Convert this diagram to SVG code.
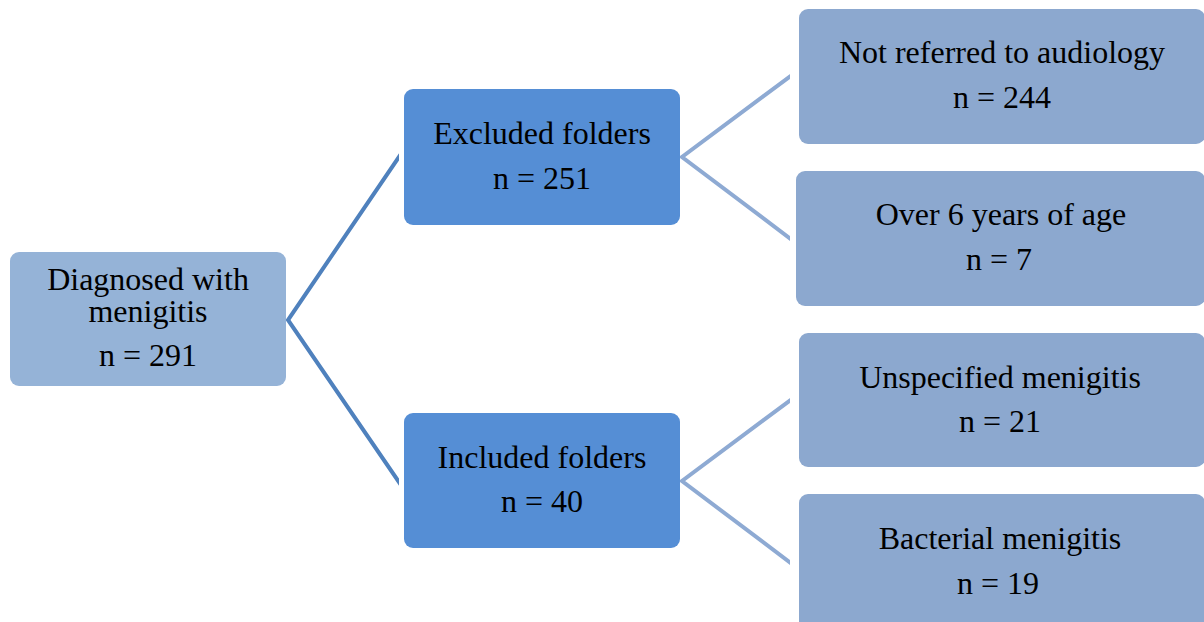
<svg xmlns="http://www.w3.org/2000/svg" width="1204" height="622" viewBox="0 0 1204 622">
  <style>
    .t { font-family: "Liberation Serif", "Times New Roman", serif; font-size: 32px; fill: #000; text-anchor: middle; }
    .root { fill: #95B3D7; }
    .mid { fill: #558ED5; }
    .leaf { fill: #8CA8CF; }
    .c1 { fill: none; stroke: #4F81BD; stroke-width: 4; stroke-linejoin: miter; }
    .c2 { fill: none; stroke: #8EAAD3; stroke-width: 4; stroke-linejoin: miter; }
  </style>
  <defs>
    <clipPath id="clipA"><rect x="0" y="0" width="399" height="622"/></clipPath>
    <clipPath id="clipB"><rect x="0" y="0" width="790" height="622"/></clipPath>
  </defs>
  <rect width="1204" height="622" fill="#fff"/>
  <g id="connectors">
    <polyline class="c1" clip-path="url(#clipA)" points="403,151 288,320 403,488"/>
    <polyline class="c2" clip-path="url(#clipB)" points="796,72 682,157 796,243"/>
    <polyline class="c2" clip-path="url(#clipB)" points="796,396 682,481 796,567"/>
  </g>
  <g id="root">
    <rect class="root" x="10" y="252" width="276" height="134" rx="9"/>
    <text class="t" x="148" y="290">Diagnosed with</text>
    <text class="t" x="148" y="322">menigitis</text>
    <text class="t" x="148" y="366">n = 291</text>
  </g>
  <g id="excluded">
    <rect class="mid" x="404" y="89" width="276" height="136" rx="9"/>
    <text class="t" x="542" y="144">Excluded folders</text>
    <text class="t" x="542" y="189">n = 251</text>
  </g>
  <g id="included">
    <rect class="mid" x="404" y="413" width="276" height="135" rx="9"/>
    <text class="t" x="542" y="468">Included folders</text>
    <text class="t" x="542" y="512">n = 40</text>
  </g>
  <g id="not-referred">
    <rect class="leaf" x="799" y="9" width="406" height="135" rx="9"/>
    <text class="t" x="1002" y="63">Not referred to audiology</text>
    <text class="t" x="1002" y="108">n = 244</text>
  </g>
  <g id="over-6">
    <rect class="leaf" x="796" y="171" width="409" height="135" rx="9"/>
    <text class="t" x="1001" y="225">Over 6 years of age</text>
    <text class="t" x="999" y="270">n = 7</text>
  </g>
  <g id="unspecified">
    <rect class="leaf" x="799" y="333" width="406" height="134" rx="9"/>
    <text class="t" x="1000" y="388">Unspecified menigitis</text>
    <text class="t" x="1000" y="432">n = 21</text>
  </g>
  <g id="bacterial">
    <rect class="leaf" x="799" y="494" width="406" height="140" rx="9"/>
    <text class="t" x="1000" y="549">Bacterial menigitis</text>
    <text class="t" x="998" y="594">n = 19</text>
  </g>
</svg>
